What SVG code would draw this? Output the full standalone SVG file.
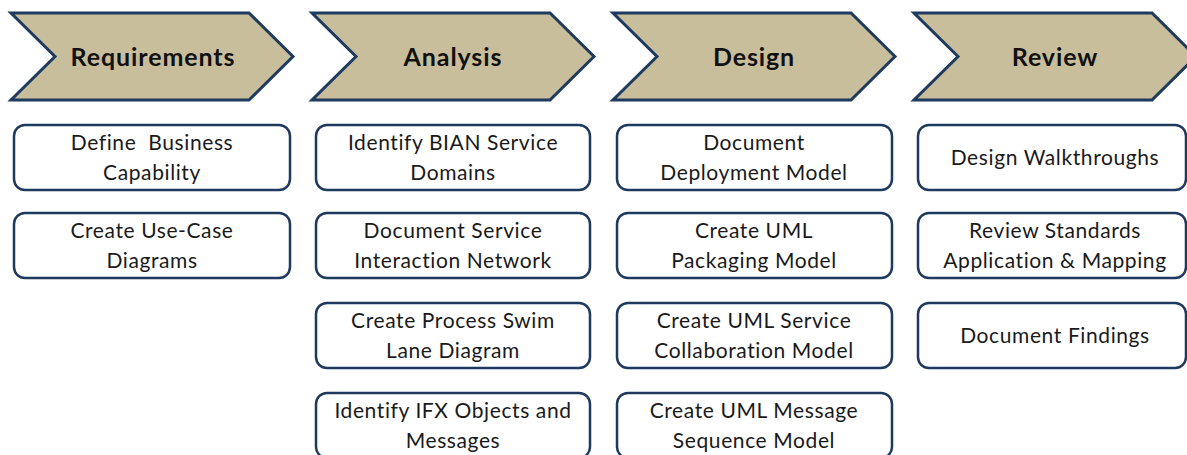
<svg xmlns="http://www.w3.org/2000/svg" width="1187" height="455" viewBox="0 0 1187 455">
<style>
.chev{fill:#C9BE9B;stroke:#1F3A5F;stroke-width:3;stroke-linejoin:miter}
.box{fill:#fff;stroke:#1F3A5F;stroke-width:2.5}
.h{font-family:Lato,"Liberation Sans",sans-serif;font-weight:bold;font-size:25px;letter-spacing:0.9px;fill:#111;text-anchor:middle}
.t{font-family:Lato,"Liberation Sans",sans-serif;font-size:21px;letter-spacing:0.6px;fill:#1a1a1a;text-anchor:middle}
</style>
<rect width="1187" height="455" fill="#fff"/>
<g id="phase-requirements">
<path class="chev" d="M11,13 H249 L293,56.5 L249,100 H11 L55,56.5 Z"/>
<text class="h" x="153" y="66">Requirements</text>
</g>
<g id="phase-analysis">
<path class="chev" d="M312,13 H550 L594,56.5 L550,100 H312 L356,56.5 Z"/>
<text class="h" x="453" y="66">Analysis</text>
</g>
<g id="phase-design">
<path class="chev" d="M613,13 H851 L895,56.5 L851,100 H613 L657,56.5 Z"/>
<text class="h" x="754" y="66">Design</text>
</g>
<g id="phase-review">
<path class="chev" d="M914,13 H1152 L1196,56.5 L1152,100 H914 L958,56.5 Z"/>
<text class="h" x="1055" y="66">Review</text>
</g>

<g id="req-1"><rect class="box" x="14" y="125" width="276" height="65" rx="11"/><text class="t" x="152" y="150">Define&#160; Business</text><text class="t" x="152" y="180">Capability</text></g>
<g id="req-2"><rect class="box" x="14" y="213" width="276" height="65" rx="11"/><text class="t" x="152" y="238">Create Use-Case</text><text class="t" x="152" y="268">Diagrams</text></g>

<g id="ana-1"><rect class="box" x="316" y="125" width="274" height="65" rx="11"/><text class="t" x="453" y="150">Identify BIAN Service</text><text class="t" x="453" y="180">Domains</text></g>
<g id="ana-2"><rect class="box" x="316" y="213" width="274" height="65" rx="11"/><text class="t" x="453" y="238">Document Service</text><text class="t" x="453" y="268">Interaction Network</text></g>
<g id="ana-3"><rect class="box" x="316" y="303" width="274" height="65" rx="11"/><text class="t" x="453" y="328">Create Process Swim</text><text class="t" x="453" y="358">Lane Diagram</text></g>
<g id="ana-4"><rect class="box" x="316" y="393" width="274" height="65" rx="11"/><text class="t" x="453" y="418">Identify IFX Objects and</text><text class="t" x="453" y="448">Messages</text></g>

<g id="des-1"><rect class="box" x="617" y="125" width="275" height="65" rx="11"/><text class="t" x="754" y="150">Document</text><text class="t" x="754" y="180">Deployment Model</text></g>
<g id="des-2"><rect class="box" x="617" y="213" width="275" height="65" rx="11"/><text class="t" x="754" y="238">Create UML</text><text class="t" x="754" y="268">Packaging Model</text></g>
<g id="des-3"><rect class="box" x="617" y="303" width="275" height="65" rx="11"/><text class="t" x="754" y="328">Create UML Service</text><text class="t" x="754" y="358">Collaboration Model</text></g>
<g id="des-4"><rect class="box" x="617" y="393" width="275" height="65" rx="11"/><text class="t" x="754" y="418">Create UML Message</text><text class="t" x="754" y="448">Sequence Model</text></g>

<g id="rev-1"><rect class="box" x="918" y="125" width="268" height="65" rx="11"/><text class="t" x="1055" y="165">Design Walkthroughs</text></g>
<g id="rev-2"><rect class="box" x="918" y="213" width="268" height="65" rx="11"/><text class="t" x="1055" y="238">Review Standards</text><text class="t" x="1055" y="268">Application &amp; Mapping</text></g>
<g id="rev-3"><rect class="box" x="918" y="303" width="268" height="65" rx="11"/><text class="t" x="1055" y="343">Document Findings</text></g>

<g id="connectors"/>
</svg>
